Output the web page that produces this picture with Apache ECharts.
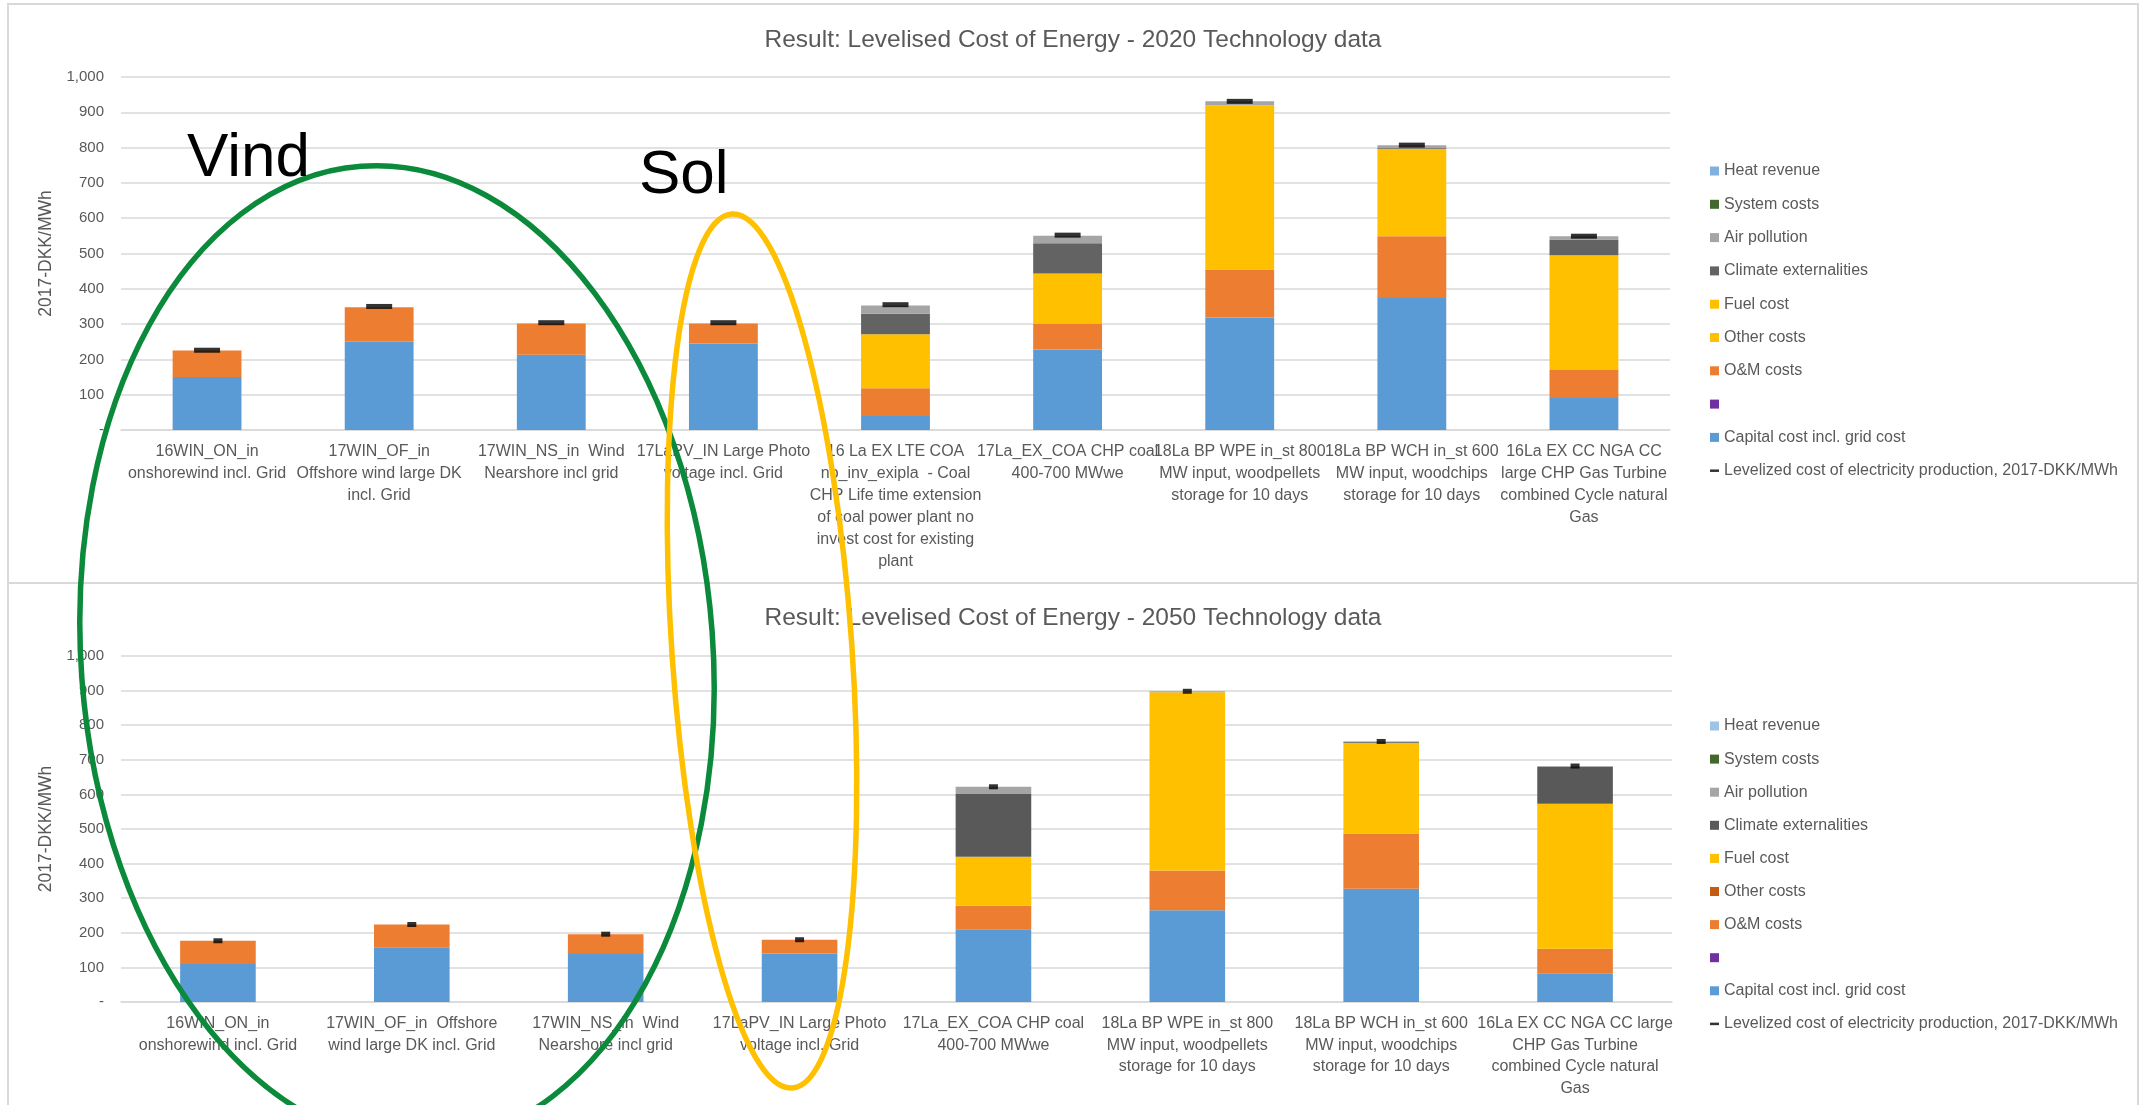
<!DOCTYPE html>
<html><head><meta charset="utf-8">
<script src="https://cdn.jsdelivr.net/npm/echarts@6/dist/echarts.min.js"></script>
<style>html,body{margin:0;padding:0;background:#fff}#c{width:2146px;height:1105px}</style>
</head><body><div id="c"></div>
<script>
// ---------- data ----------
const title2020 = 'Result: Levelised Cost of Energy - 2020 Technology data';
const title2050 = 'Result: Levelised Cost of Energy - 2050 Technology data';
const yAxisName = '2017-DKK/MWh';
const yTicks = [0, 100, 200, 300, 400, 500, 600, 700, 800, 900, 1000];

const categories2020 = [
  '16WIN_ON_in\nonshorewind incl. Grid',
  '17WIN_OF_in\nOffshore wind large DK\nincl. Grid',
  '17WIN_NS_in  Wind\nNearshore incl grid',
  '17LaPV_IN Large Photo\nvoltage incl. Grid',
  '16 La EX LTE COA\nno_inv_exipla  - Coal\nCHP Life time extension\nof coal power plant no\ninvest cost for existing\nplant',
  '17La_EX_COA CHP coal\n400-700 MWwe',
  '18La BP WPE in_st 800\nMW input, woodpellets\nstorage for 10 days',
  '18La BP WCH in_st 600\nMW input, woodchips\nstorage for 10 days',
  '16La EX CC NGA CC\nlarge CHP Gas Turbine\ncombined Cycle natural\nGas'
];
const capital2020  = [150, 250, 213, 245, 40, 228, 319, 374, 91];
const purple2020   = [0, 0, 0, 0, 0, 0, 0, 0, 0];
const om2020       = [75, 98, 89, 57, 78, 74, 136, 175, 79];
const other2020    = [0, 0, 0, 0, 0, 0, 0, 0, 0];
const fuel2020     = [0, 0, 0, 0, 153, 141, 465, 248, 325];
const climate2020  = [0, 0, 0, 0, 58, 86, 0, 2, 45];
const air2020      = [0, 0, 0, 0, 24, 21, 11, 8, 9];
const system2020   = [0, 0, 0, 0, 0, 0, 0, 0, 0];
const heat2020     = [0, 0, 0, 0, 0, 0, 0, 0, 0];
const lcoe2020     = [226, 350, 304, 304, 355, 552, 931, 807, 549];

const categories2050 = [
  '16WIN_ON_in\nonshorewind incl. Grid',
  '17WIN_OF_in  Offshore\nwind large DK incl. Grid',
  '17WIN_NS_in  Wind\nNearshore incl grid',
  '17LaPV_IN Large Photo\nvoltage incl. Grid',
  '17La_EX_COA CHP coal\n400-700 MWwe',
  '18La BP WPE in_st 800\nMW input, woodpellets\nstorage for 10 days',
  '18La BP WCH in_st 600\nMW input, woodchips\nstorage for 10 days',
  '16La EX CC NGA CC large\nCHP Gas Turbine\ncombined Cycle natural\nGas'
];
const capital2050  = [110, 158, 139, 140, 210, 265, 327, 83];
const purple2050   = [0, 0, 0, 0, 0, 0, 0, 0];
const om2050       = [67, 66, 57, 40, 68, 115, 160, 71];
const other2050    = [0, 0, 0, 0, 0, 0, 0, 0];
const fuel2050     = [0, 0, 0, 0, 142, 515, 262, 419];
const climate2050  = [0, 0, 0, 0, 181, 0, 3, 107];
const air2050      = [0, 0, 0, 0, 21, 3, 1, 2];
const system2050   = [0, 0, 0, 0, 0, 0, 0, 0];
const heat2050     = [0, 0, 0, 0, 0, 0, 0, 0];
const lcoe2050     = [177, 224, 196, 180, 622, 898, 753, 682];

const seriesNames = ['Heat revenue', 'System costs', 'Air pollution', 'Climate externalities',
  'Fuel cost', 'Other costs', 'O&M costs', ' ', 'Capital cost incl. grid cost',
  'Levelized cost of electricity production, 2017-DKK/MWh'];

// ---------- styles ----------
const FONT = 'Liberation Sans';
const TXT = '#595959';
const GRIDC = '#D9D9D9';
const colors2020 = {
  'Heat revenue': '#7FB0DE', 'System costs': '#43682B', 'Air pollution': '#A5A5A5',
  'Climate externalities': '#636363', 'Fuel cost': '#FFC000', 'Other costs': '#FFC000',
  'O&M costs': '#ED7D31', ' ': '#7030A0', 'Capital cost incl. grid cost': '#5B9BD5'
};
const colors2050 = {
  'Heat revenue': '#9DC3E6', 'System costs': '#43682B', 'Air pollution': '#A5A5A5',
  'Climate externalities': '#595959', 'Fuel cost': '#FFC000', 'Other costs': '#C55A11',
  'O&M costs': '#ED7D31', ' ': '#7030A0', 'Capital cost incl. grid cost': '#5B9BD5'
};
const DASH = 'path://M0,0M10,10M0,3.6L10,3.6L10,6.4L0,6.4Z';

function stackSeries(idx, colors, data, barWidth) {
  const order = [
    ['Capital cost incl. grid cost', data.capital],
    [' ', data.purple],
    ['O&M costs', data.om],
    ['Other costs', data.other],
    ['Fuel cost', data.fuel],
    ['Climate externalities', data.climate],
    ['Air pollution', data.air],
    ['System costs', data.system],
    ['Heat revenue', data.heat]
  ];
  const out = order.map(([n, d]) => ({
    type: 'bar', name: n, stack: 's' + idx, xAxisIndex: idx, yAxisIndex: idx,
    barWidth: barWidth, data: d, itemStyle: { color: colors[n] }, emphasis: { disabled: true }
  }));
  out.push({
    type: 'scatter', name: seriesNames[9], xAxisIndex: idx, yAxisIndex: idx,
    symbol: 'rect', symbolSize: idx === 0 ? [26, 5] : [9, 5], z: 5,
    symbolKeepAspect: true,
    itemStyle: { color: '#000' }, data: data.lcoe
  });
  return out;
}

function legendData(colors) {
  return seriesNames.map((n, i) => i < 9
    ? { name: n, icon: 'rect', itemStyle: { color: colors[n] } }
    : { name: n, icon: DASH, itemStyle: { color: '#000' } });
}

function yAxis(idx) {
  return {
    type: 'value', gridIndex: idx, min: 0, max: 1000, interval: 100,
    name: yAxisName, nameLocation: 'middle', nameGap: 66, nameRotate: 90,
    nameTextStyle: { fontFamily: FONT, fontSize: 17.5, color: TXT },
    axisLine: { show: false }, axisTick: { show: false },
    axisLabel: {
      fontFamily: FONT, fontSize: 15, color: TXT, margin: 17,
      formatter: v => v === 0 ? '-' : v.toLocaleString('en-US')
    },
    splitLine: { lineStyle: { color: GRIDC, width: 1.5 } }
  };
}
function xAxis(idx, cats, lh) {
  return {
    type: 'category', gridIndex: idx, data: cats,
    axisLine: { lineStyle: { color: GRIDC, width: 1.5 } }, axisTick: { show: false },
    axisLabel: { interval: 0, fontFamily: FONT, fontSize: 16, color: TXT, lineHeight: lh, margin: 11 }
  };
}

const chart = echarts.init(document.getElementById('c'), null, { renderer: 'canvas' });
chart.setOption({
  animation: false,
  backgroundColor: '#fff',
  title: [
    { text: title2020, left: 'center', top: 23, textStyle: { fontFamily: FONT, fontSize: 24.5, fontWeight: 'normal', color: TXT } },
    { text: title2050, left: 'center', top: 601, textStyle: { fontFamily: FONT, fontSize: 24.5, fontWeight: 'normal', color: TXT } }
  ],
  grid: [
    { left: 121, right: 476, top: 77, height: 353, containLabel: false },
    { left: 121, right: 474, top: 656, height: 346, containLabel: false }
  ],
  xAxis: [xAxis(0, categories2020, 22), xAxis(1, categories2050, 21.5)],
  yAxis: [yAxis(0), yAxis(1)],
  legend: [
    { orient: 'vertical', left: 1705, top: 156, itemWidth: 9, itemHeight: 9, itemGap: 13.3,
      selectedMode: false, data: legendData(colors2020),
      textStyle: { fontFamily: FONT, fontSize: 16, color: TXT, lineHeight: 20 } },
    { orient: 'vertical', left: 1705, top: 711, itemWidth: 9, itemHeight: 9, itemGap: 13.1,
      selectedMode: false, data: legendData(colors2050),
      textStyle: { fontFamily: FONT, fontSize: 16, color: TXT, lineHeight: 20 } }
  ],
  series: [].concat(
    stackSeries(0, colors2020, { capital: capital2020, purple: purple2020, om: om2020, other: other2020,
      fuel: fuel2020, climate: climate2020, air: air2020, system: system2020, heat: heat2020, lcoe: lcoe2020 }, '40%'),
    stackSeries(1, colors2050, { capital: capital2050, purple: purple2050, om: om2050, other: other2050,
      fuel: fuel2050, climate: climate2050, air: air2050, system: system2050, heat: heat2050, lcoe: lcoe2050 }, '39%')
  ),
  graphic: [
    { type: 'rect', z: 1, shape: { x: 8, y: 4, width: 2130, height: 579 }, style: { fill: 'none', stroke: GRIDC, lineWidth: 2 } },
    { type: 'rect', z: 1, shape: { x: 8, y: 583, width: 2130, height: 540 }, style: { fill: 'none', stroke: GRIDC, lineWidth: 2 } },
    { type: 'ellipse', z: 100, x: 397, y: 655, rotation: 0.073, shape: { cx: 0, cy: 0, rx: 316, ry: 490 },
      style: { fill: 'none', stroke: '#0A8A3A', lineWidth: 5.5 } },
    { type: 'ellipse', z: 100, x: 762, y: 651, rotation: 0.069, shape: { cx: 0, cy: 0, rx: 90, ry: 438 },
      style: { fill: 'none', stroke: '#FFC000', lineWidth: 5.5 } },
    { type: 'text', z: 100, x: 187, y: 128, style: { text: 'Vind', fontFamily: FONT, fontSize: 62, fill: '#000' } },
    { type: 'text', z: 100, x: 639, y: 145, style: { text: 'Sol', fontFamily: FONT, fontSize: 62, fill: '#000' } }
  ]
});
</script>
</body></html>
